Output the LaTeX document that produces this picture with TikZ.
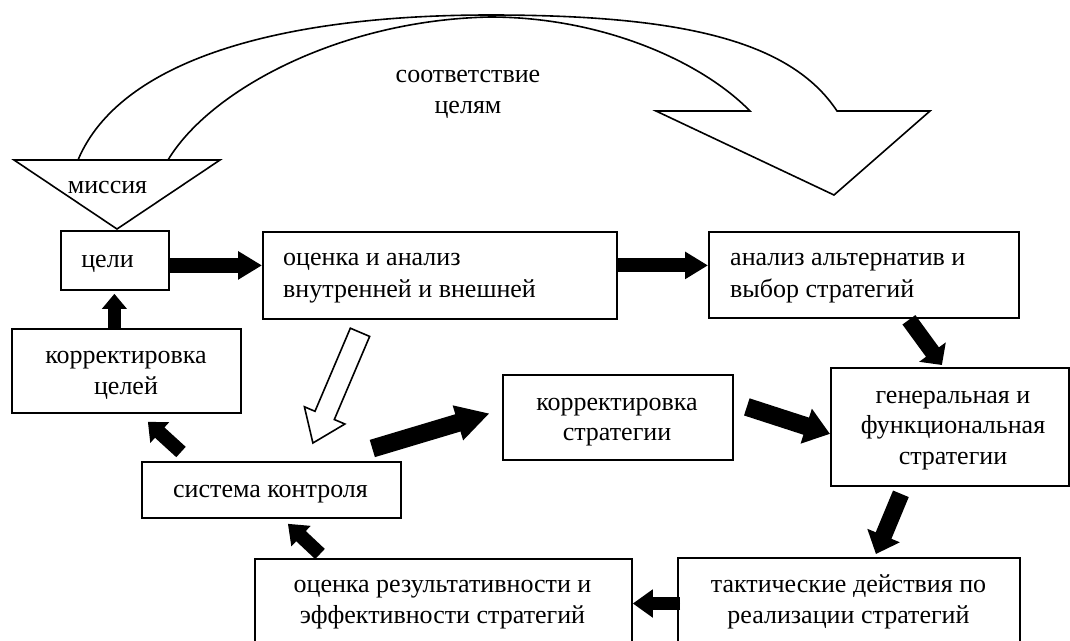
\documentclass[tikz,border=0pt]{standalone}
\usepackage{fontspec}
\setmainfont{Liberation Serif}
\usetikzlibrary{arrows.meta,calc}
\begin{document}
\begin{tikzpicture}[x=1pt,y=1pt,
  box/.style={draw, line width=1.8pt, inner sep=0pt, anchor=north west},
  txt/.style={inner sep=0pt, font=\fontsize{26}{30.5}\selectfont},
  wide/.style={font=\fontsize{26}{32}\selectfont},
  fat/.style n args={3}{draw, fill=black, line width=#1pt, -{Triangle[width=#2pt,length=#3pt]}},
  outline/.style={draw, line width=1.6pt, line join=miter}]
\useasboundingbox (0,0) rectangle (1070,-640);
\clip (0,0) rectangle (1070,-640);

% boxes
\node[box, minimum width=108pt, minimum height=59pt] (celi) at (60,-230) {};
\node[box, minimum width=354pt, minimum height=87pt] (ocenka) at (262,-231) {};
\node[box, minimum width=310pt, minimum height=86pt] (analiz) at (708,-231) {};
\node[box, minimum width=229pt, minimum height=84pt] (korrC) at (11,-328) {};
\node[box, minimum width=230pt, minimum height=85pt] (korrS) at (502,-374) {};
\node[box, minimum width=238pt, minimum height=118pt] (gen) at (830,-367) {};
\node[box, minimum width=259pt, minimum height=56pt] (sys) at (141,-461) {};
\node[box, minimum width=377pt, minimum height=110pt] (ocR) at (254,-558) {};
\node[box, minimum width=342pt, minimum height=110pt] (takt) at (677,-557) {};

% mission triangle
\coordinate (mL) at (14,-160);
\coordinate (mR) at (220,-160);
\coordinate (mB) at (117,-229);
\draw[outline] (mL) -- (mR) -- (mB) -- cycle;

% texts (anchor base = last line)
\node[txt, anchor=base] (tMis) at (107.5,-193) {миссия};
\node[txt, anchor=base] (tCeli) at (107.5,-267) {цели};
\node[txt, wide, anchor=base west, align=left] (tOc) at (283,-297) {оценка и анализ\\внутренней и внешней};
\node[txt, wide, anchor=base west, align=left] (tAn) at (730,-297) {анализ альтернатив и\\выбор стратегий};
\node[txt, anchor=base, align=center] (tKC) at (126,-394) {корректировка\\целей};
\node[txt, anchor=base, align=center] (tKS) at (617,-440.5) {корректировка\\стратегии};
\node[txt, anchor=base, align=center] (tGen) at (953,-464) {генеральная и\\функциональная\\стратегии};
\node[txt, anchor=base] (tSys) at (270.5,-497) {система контроля};
\node[txt, anchor=base, align=center] (tOR) at (442.5,-623) {оценка результативности и\\эффективности стратегий};
\node[txt, anchor=base, align=center] (tTk) at (848.5,-623) {тактические действия по\\реализации стратегий};
\node[txt, anchor=base, align=center] (tSo) at (468,-113) {соответствие\\целям};

% big curved arrow
\draw[outline] (78,-160) .. controls (120,-60) and (280,-15) .. (490,-15)
  .. controls (680,-15) and (790,-40) .. (837,-111) -- (930,-111) -- (834,-195)
  -- (656,-111) -- (750,-111) .. controls (700,-60) and (600,-17) .. (490,-17)
  .. controls (340,-20) and (210,-90) .. (168,-160);

% thick arrows
\path[fat={15}{27}{24}] ($(celi.east)+(0,-5)$) -- ($(ocenka.west)+(0,10)$);
\path[fat={14}{26}{23}] ($(ocenka.east)+(0,10)$) -- ($(analiz.west)+(0,9.5)$);
\path[fat={16}{32}{16}] ($(analiz.south)+(45,-1)$) -- ($(gen.north)+(-8,2)$);
\path[fat={17}{34}{20}] ($(gen.south)+(-49,-7)$) -- ($(takt.north)+(27,3)$);
\path[fat={13}{27}{20}] ($(takt.north west)+(3,-46.5)$) -- ($(ocR.north east)+(0,-45.5)$);
\path[fat={14}{27}{18}] ($(ocR.north west)+(66,4)$) -- ($(sys.south)+(16.5,-5)$);
\path[fat={14}{27}{16}] ($(sys.north west)+(40,9)$) -- ($(korrC.south)+(21.5,-8)$);
\path[fat={13}{24}{15}] ($(korrC.north)+(-12,0)$) -- ($(celi.south)+(-0.5,-3)$);
\path[fat={18}{34}{33}] ($(sys.north east)+(-29.5,12.5)$) -- ($(korrS.west)+(-12.5,4)$);
\path[fat={18}{35}{25}] ($(korrS.east)+(13,10.5)$) -- ($(gen.west)+(0,-7)$);

% hollow arrow
\coordinate (hT) at ($(ocenka.south west)+(98,-12.5)$);
\coordinate (hP) at ($(sys.north)+(41.5,18)$);
\coordinate (hB) at ($(hP)!30pt!(hT)$);
\draw[outline, fill=white] ($(hT)!10.5pt!90:(hP)$) -- ($(hB)!10.5pt!-90:(hT)$)
  -- ($(hB)!22pt!-90:(hT)$) -- (hP) -- ($(hB)!22pt!90:(hT)$)
  -- ($(hB)!10.5pt!90:(hT)$) -- ($(hT)!10.5pt!-90:(hP)$) -- cycle;
\end{tikzpicture}
\end{document}
